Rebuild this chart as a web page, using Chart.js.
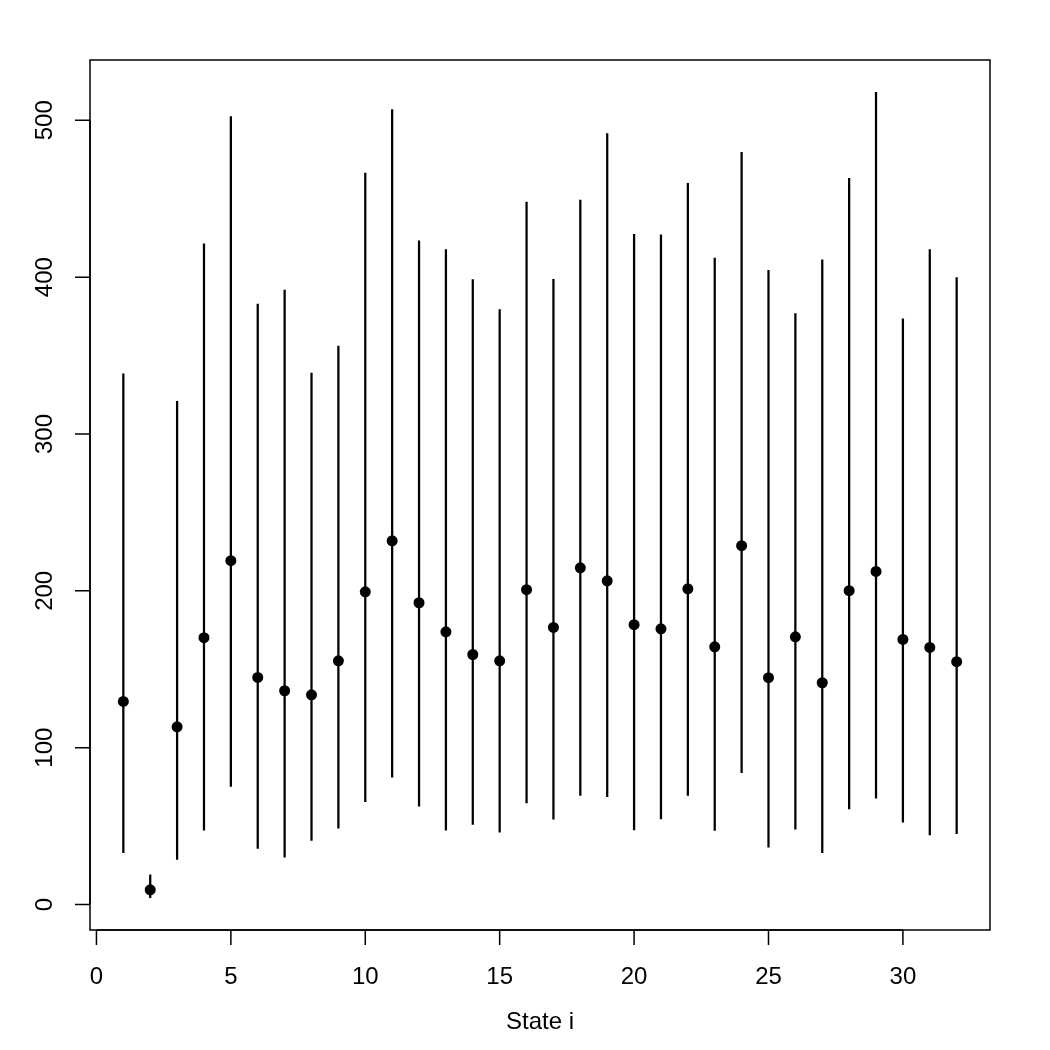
<!DOCTYPE html>
<html>
<head>
<meta charset="utf-8">
<script src="https://cdn.jsdelivr.net/npm/chart.js@4/dist/chart.umd.min.js"></script>
<style>
  body { margin: 0; background: #fff; }
  canvas { display: block; }
</style>
</head>
<body>
<canvas id="myChart" width="1050" height="1050"></canvas>
<script>
// State index, posterior mean and interval bounds
const states = [1,2,3,4,5,6,7,8,9,10,11,12,13,14,15,16,17,18,19,20,21,22,23,24,25,26,27,28,29,30,31,32]
const means = [129.5,9.4,113.3,170.1,219.2,144.8,136.3,133.7,155.4,199.4,231.9,192.4,173.9,159.4,155.4,200.7,
               176.7,214.7,206.4,178.4,175.8,201.3,164.3,228.8,144.6,170.7,141.4,200.1,212.4,169.0,163.9,154.8]
const lower = [33.0,4.3,28.7,47.4,75.3,35.7,30.2,40.8,48.7,65.5,81.2,62.7,47.4,51.0,46.1,64.8,
               54.4,69.5,68.7,47.6,54.6,69.5,47.2,84.0,36.6,48.0,33.0,61.0,67.8,52.5,44.4,45.1]
const upper = [338.3,18.9,320.8,421.3,502.3,382.9,391.8,338.9,356.1,466.4,506.8,423.2,417.5,398.4,379.3,447.9,
               398.6,449.2,491.5,427.3,426.9,459.8,412.2,479.6,404.3,376.7,411.1,463.0,517.9,373.5,417.5,399.7]
const xTicks = [0,5,10,15,20,25,30]
const yTicks = [0,100,200,300,400,500]
const xTitle = 'State i'

// R style axis range: data range extended by 4% on each side
const xLo = Math.min(...states), xHi = Math.max(...states)
const yLo = Math.min(...lower), yHi = Math.max(...upper)
const xPad = (xHi - xLo) * 0.04, yPad = (yHi - yLo) * 0.04

const FONT = '24px "Liberation Sans", Arial, sans-serif'

const rAxes = {
  id: 'rAxes',
  afterDraw(chart) {
    const ctx = chart.ctx
    const a = chart.chartArea
    const xs = chart.scales.x, ys = chart.scales.y
    ctx.save()
    ctx.strokeStyle = '#000'
    ctx.fillStyle = '#000'
    ctx.lineWidth = 1.5
    ctx.strokeRect(a.left, a.top, a.right - a.left, a.bottom - a.top)

    // x axis
    ctx.beginPath()
    ctx.moveTo(xs.getPixelForValue(xTicks[0]), a.bottom)
    ctx.lineTo(xs.getPixelForValue(xTicks[xTicks.length - 1]), a.bottom)
    xTicks.forEach(t => {
      const px = xs.getPixelForValue(t)
      ctx.moveTo(px, a.bottom)
      ctx.lineTo(px, a.bottom + 15)
    })
    // y axis
    ctx.moveTo(a.left, ys.getPixelForValue(yTicks[0]))
    ctx.lineTo(a.left, ys.getPixelForValue(yTicks[yTicks.length - 1]))
    yTicks.forEach(t => {
      const py = ys.getPixelForValue(t)
      ctx.moveTo(a.left, py)
      ctx.lineTo(a.left - 15, py)
    })
    ctx.stroke()

    ctx.font = FONT
    ctx.textAlign = 'center'
    ctx.textBaseline = 'middle'
    xTicks.forEach(t => {
      ctx.fillText(String(t), xs.getPixelForValue(t), a.bottom + 47)
    })
    yTicks.forEach(t => {
      ctx.save()
      ctx.translate(a.left - 45, ys.getPixelForValue(t))
      ctx.rotate(-Math.PI / 2)
      ctx.fillText(String(t), 0, 0)
      ctx.restore()
    })
    ctx.fillText(xTitle, (a.left + a.right) / 2, a.bottom + 92)
    ctx.restore()
  }
}

const ctx = document.getElementById('myChart').getContext('2d')
const myChart = new Chart(ctx, {
  data: {
    datasets: [{
      type: 'bar',
      label: 'interval',
      data: states.map((s, i) => ({ x: s, y: [lower[i], upper[i]] })),
      backgroundColor: '#000',
      borderWidth: 0,
      barThickness: 1.6
    },
    {
      type: 'scatter',
      label: 'mean',
      data: states.map((s, i) => ({ x: s, y: means[i] })),
      backgroundColor: '#000',
      borderWidth: 0,
      pointRadius: 5.5
    }]
  },
  options: {
    responsive: false,
    animation: false,
    devicePixelRatio: 1,
    layout: { padding: { left: 90, top: 60, right: 60, bottom: 120 } },
    plugins: {
      legend: { display: false },
      tooltip: { enabled: false }
    },
    scales: {
      x: { type: 'linear', offset: false, min: xLo - xPad, max: xHi + xPad, display: false },
      y: { type: 'linear', min: yLo - yPad, max: yHi + yPad, display: false }
    }
  },
  plugins: [rAxes]
})
</script>
</body>
</html>
